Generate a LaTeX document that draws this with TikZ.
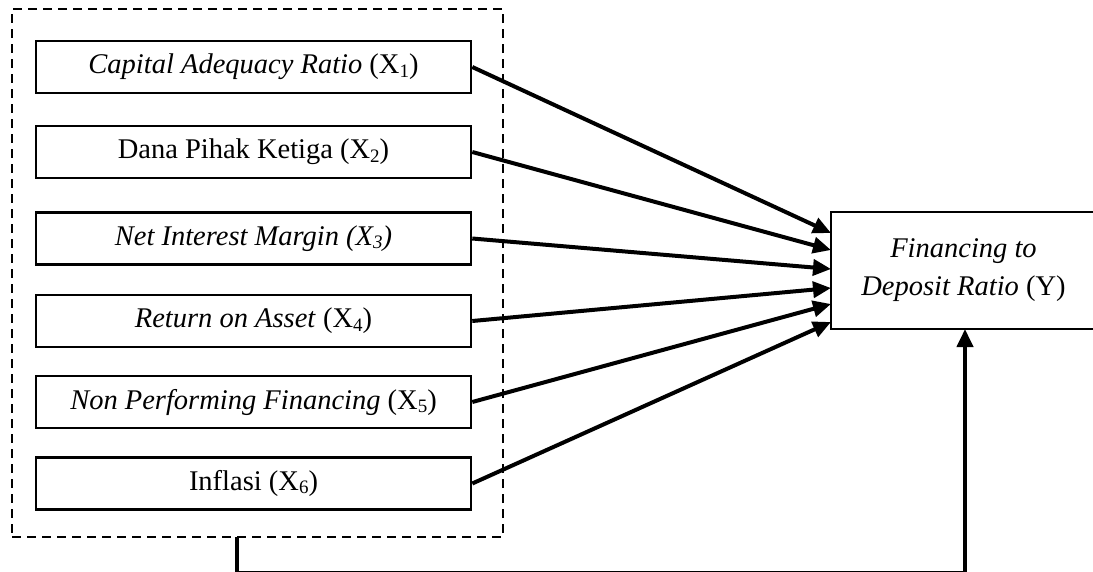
\documentclass[tikz,border=0pt]{standalone}
\usepackage{fontspec}
\setmainfont{Liberation Serif}
\usetikzlibrary{arrows.meta}
% Word-style subscript: small digit, slightly lowered
\newcommand{\sbs}[1]{\raisebox{-0.12em}{\fontsize{19}{19}\selectfont #1}}
\tikzset{
  x=1pt, y=-1pt,
  varbox/.style={draw, line width=2.6pt, minimum width=435pt, minimum height=52pt,
    inner sep=0pt, font=\fontsize{28.5}{34}\selectfont},
  ybox/.style={draw, line width=2.8pt, minimum width=265pt, minimum height=117pt,
    inner sep=0pt, align=center, font=\fontsize{28.5}{38}\selectfont},
  groupbox/.style={draw, line width=2.6pt, dash pattern=on 9pt off 6pt,
    minimum width=491pt, minimum height=528pt, inner sep=0pt},
  arr/.style={line width=4pt, -{Triangle[length=18pt,width=16pt]}},
}
\begin{document}
\begin{tikzpicture}
\useasboundingbox (0,0) rectangle (1093,571);
% group of independent variables
\node[groupbox] (grp) at (257.5,273) {};
\node[varbox] (x1) at (253.5,67)    {\textit{Capital Adequacy Ratio} (X\sbs{1})};
\node[varbox] (x2) at (253.5,152)   {Dana Pihak Ketiga (X\sbs{2})};
\node[varbox] (x3) at (253.5,238.5) {\textit{Net Interest Margin (X\sbs{3})}};
\node[varbox] (x4) at (253.5,321)   {\textit{Return on Asset} (X\sbs{4})};
\node[varbox] (x5) at (253.5,402)   {\textit{Non Performing Financing} (X\sbs{5})};
\node[varbox] (x6) at (253.5,483.5) {Inflasi (X\sbs{6})};
% dependent variable
\node[ybox] (Y) at (963.5,270.5) {\textit{Financing to}\\\textit{Deposit Ratio} (Y)};
% entry points on the left side of Y
\coordinate (e1) at (831,233);
\coordinate (e2) at (831,250);
\coordinate (e3) at (831,269);
\coordinate (e4) at (831,288);
\coordinate (e5) at (831,304);
\coordinate (e6) at (831,322);
\draw[arr] (x1.east) -- (e1);
\draw[arr] (x2.east) -- (e2);
\draw[arr] (x3.east) -- (e3);
\draw[arr] (x4.east) -- (e4);
\draw[arr] (x5.east) -- (e5);
\draw[arr] (x6.east) -- (e6);
% simultaneous effect of the whole group
\coordinate (gs) at (237,537);
\coordinate (ys) at (965,329);
\draw[arr] (gs) -- (237,573) -- (965,573) -- (ys);
\end{tikzpicture}
\end{document}
